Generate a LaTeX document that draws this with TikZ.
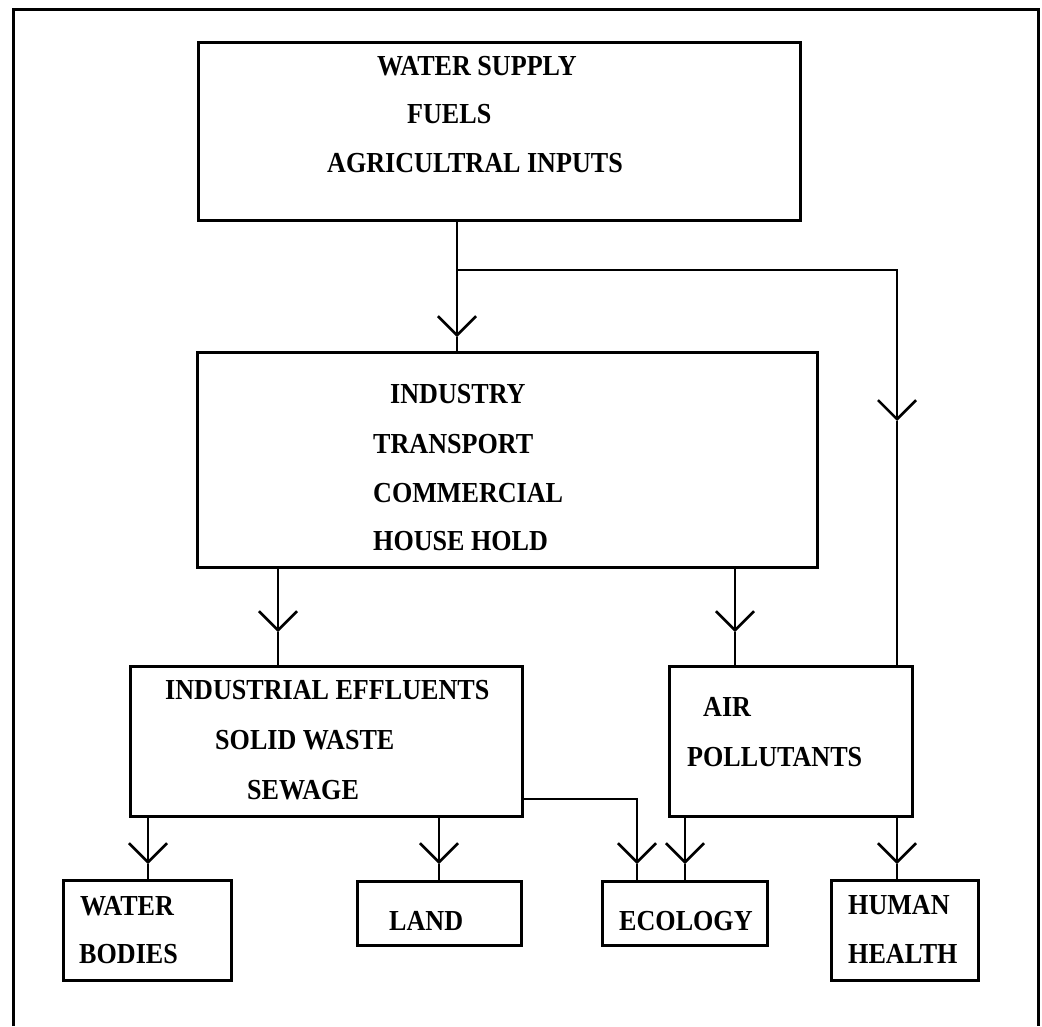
\documentclass[tikz,border=0pt]{standalone}
\usepackage{fontspec}
\setmainfont{Liberation Serif}[FakeStretch=0.9]
\usetikzlibrary{arrows.meta}
\begin{document}
\begin{tikzpicture}[x=1pt,y=-1pt,
  box/.style={draw,line width=3pt,rectangle,inner sep=0pt},
  lbl/.style={inner sep=0pt,anchor=base west,font=\fontsize{29}{31}\selectfont\bfseries},
  conn/.style={line width=2.6pt},
  arr/.style={conn,-{Straight Barb[length=19pt,width=38pt,line width=2.6pt]}}]
\useasboundingbox (0,0) rectangle (1042,1026);
% outer frame (open at the bottom)
\draw[line width=3pt] (13,1026) -- (13,9) -- (1038,9) -- (1038,1026);
% boxes
\node[box,minimum width=602pt,minimum height=178pt] (top) at (499,131) {};
\node[box,minimum width=620pt,minimum height=215pt] (mid) at (507,459.5) {};
\node[box,minimum width=392pt,minimum height=150pt] (eff) at (326,741) {};
\node[box,minimum width=243pt,minimum height=150pt] (air) at (790.5,741) {};
\node[box,minimum width=168pt,minimum height=100pt] (wb) at (147,930) {};
\node[box,minimum width=164pt,minimum height=64pt] (land) at (439,913) {};
\node[box,minimum width=165pt,minimum height=64pt] (eco) at (684.5,913) {};
\node[box,minimum width=147pt,minimum height=100pt] (hh) at (904.5,930) {};
% texts
\node[lbl] (t1) at (377,75) {WATER SUPPLY};
\node[lbl] (t2) at (407,123) {FUELS};
\node[lbl] (t3) at (327,172) {AGRICULTRAL INPUTS};
\node[lbl] (m1) at (390,403) {INDUSTRY};
\node[lbl] (m2) at (373,453) {TRANSPORT};
\node[lbl] (m3) at (373,502) {COMMERCIAL};
\node[lbl] (m4) at (373,550) {HOUSE HOLD};
\node[lbl] (e1) at (165,699) {INDUSTRIAL EFFLUENTS};
\node[lbl] (e2) at (215,749) {SOLID WASTE};
\node[lbl] (e3) at (247,799) {SEWAGE};
\node[lbl] (a1) at (703,716) {AIR};
\node[lbl] (a2) at (687,766) {POLLUTANTS};
\node[lbl] (w1) at (80,915) {WATER};
\node[lbl] (w2) at (79,963) {BODIES};
\node[lbl] (l1) at (389,930) {LAND};
\node[lbl] (c1) at (619,930) {ECOLOGY};
\node[lbl] (h1) at (848,914) {HUMAN};
\node[lbl] (h2) at (848,963) {HEALTH};
% arrow tip points and junctions
\coordinate (tA) at (457,337);
\coordinate (jn) at (457,270);
\coordinate (tB) at (897,421);
\coordinate (tC) at (278,632);
\coordinate (tD) at (735,632);
\coordinate (tE) at (148,864);
\coordinate (tF) at (439,864);
\coordinate (jE) at (522,799);
\coordinate (tG) at (637,864);
\coordinate (tH) at (685,864);
\coordinate (tI) at (897,864);
% connectors
\draw[arr] (tA |- top.south) -- (tA);
\draw[conn] (tA) -- (tA |- mid.north);
\draw[arr] (jn) -| (tB);
\draw[conn] (tB) -- (tB |- air.north);
\draw[arr] (tC |- mid.south) -- (tC);
\draw[conn] (tC) -- (tC |- eff.north);
\draw[arr] (tD |- mid.south) -- (tD);
\draw[conn] (tD) -- (tD |- air.north);
\draw[arr] (tE |- eff.south) -- (tE);
\draw[conn] (tE) -- (tE |- wb.north);
\draw[arr] (tF |- eff.south) -- (tF);
\draw[conn] (tF) -- (tF |- land.north);
\draw[arr] (jE) -| (tG);
\draw[conn] (tG) -- (tG |- eco.north);
\draw[arr] (tH |- air.south) -- (tH);
\draw[conn] (tH) -- (tH |- eco.north);
\draw[arr] (tI |- air.south) -- (tI);
\draw[conn] (tI) -- (tI |- hh.north);
\end{tikzpicture}
\end{document}
